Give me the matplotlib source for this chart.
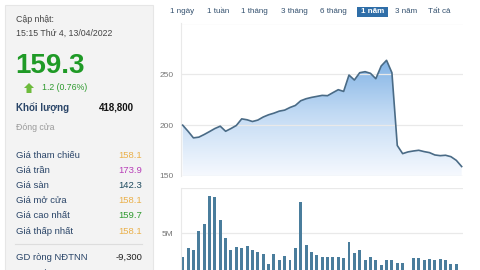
import numpy as np
import matplotlib
matplotlib.use("Agg")
import matplotlib.pyplot as plt
from matplotlib.colors import LinearSegmentedColormap
from matplotlib.patches import Rectangle, Polygon

plt.rcParams['font.family'] = ['Liberation Sans', 'DejaVu Sans']

# weekly close price, 1 year
price = [200, 194, 187.5, 188.2, 190.8, 193.7, 196.7, 199, 194, 196.7,
         199.7, 206.2, 205.3, 203.6, 205, 208, 210.2, 211.8, 213.8, 214.8,
         217.4, 219.4, 224, 226, 227.3, 228.3, 229.3, 229, 232, 234.9,
         233.2, 249.3, 244.4, 251.6, 252.6, 251, 245.7, 258.2, 263.8, 251.6,
         180, 172, 173.7, 174.6, 175.3, 174, 173, 170.7, 170, 170.4,
         169, 165.4, 159.3]
# weekly volume (shares)
volume = [2.37e6, 3.37e6, 3.15e6, 5.2e6, 6.0e6, 9.15e6, 8.96e6, 6.48e6, 4.4e6, 3.07e6,
          3.44e6, 3.3e6, 3.52e6, 3.07e6, 2.85e6, 2.63e6, 1.55e6, 2.67e6, 2.0e6, 2.4e6,
          1.96e6, 3.3e6, 8.5e6, 3.63e6, 2.85e6, 2.52e6, 2.37e6, 2.37e6, 2.37e6, 2.37e6,
          2.22e6, 3.96e6, 2.78e6, 3.07e6, 2.0e6, 2.3e6, 2.0e6, 1.44e6, 1.96e6, 2.0e6,
          1.63e6, 1.63e6, 0.6e6, 2.22e6, 2.26e6, 2.04e6, 2.1e6, 1.96e6, 2.1e6, 1.96e6,
          1.55e6, 1.55e6, 0.42e6]

periods = ["1 ngày", "1 tuần", "1 tháng", "3 tháng", "6 tháng", "1 năm", "3 năm", "Tất cả"]
active_period = "1 năm"

update_label = "Cập nhật:"
update_time = "15:15 Thứ 4, 13/04/2022"
last_price = "159.3"
change_text = "1.2 (0.76%)"
volume_label = "Khối lượng"
volume_value = "418,800"
close_label = "Đóng cửa"

row_labels = ["Giá tham chiếu", "Giá trần", "Giá sàn", "Giá mở cửa",
              "Giá cao nhất", "Giá thấp nhất", "GD ròng NĐTNN", "CRNN/GTT Mua"]
row_values = ["158.1", "173.9", "142.3", "158.1", "159.7", "158.1", "-9,300", "0.17%"]
row_colors = ["#eab04a", "#b83fb8", "#1e4a5e", "#eab04a", "#2f9a2f", "#eab04a", "#222222", "#222222"]

W, H = 480, 270
fig = plt.figure(figsize=(4.8, 2.7), dpi=100)
fig.patch.set_facecolor("white")


def fx(px):
    return px / W


def fy(py):
    return 1 - py / H


# left info panel
fig.patches.append(Rectangle((fx(5), fy(272)), fx(148), 267 / H, transform=fig.transFigure,
                             facecolor="#f3f3f3", edgecolor="#e6e6e6", lw=0.8))

label_col = "#2a4568"
fig.text(fx(16), fy(20), update_label, fontsize=6.3, color="#444444", va="center")
fig.text(fx(16), fy(33), update_time, fontsize=6.3, color="#444444", va="center")
fig.text(fx(15), fy(66), last_price, fontsize=20, color="#1f9a26", fontweight="bold", va="center")
fig.patches.append(Polygon([(fx(24), fy(88)), (fx(29), fy(83)), (fx(34), fy(88)),
                            (fx(31.5), fy(88)), (fx(31.5), fy(93)), (fx(26.5), fy(93)),
                            (fx(26.5), fy(88))], closed=True, transform=fig.transFigure,
                           facecolor="#6dbb3c", edgecolor="none"))
fig.text(fx(42), fy(88), change_text, fontsize=6.3, color="#2f9a2f", va="center")
fig.text(fx(16), fy(108), volume_label, fontsize=7, color=label_col, fontweight="bold", va="center")
fig.text(fx(134), fy(108), volume_value, fontsize=7, color="#111111", fontweight="bold",
         va="center", ha="right")
fig.text(fx(16), fy(128), close_label, fontsize=6.3, color="#9a9a9a", va="center")

row_y = [155.7, 170.7, 185.7, 200.7, 215.7, 231, 257.7, 273]
for lab, val, col, yy in zip(row_labels, row_values, row_colors, row_y):
    fig.text(fx(16), fy(yy), lab, fontsize=6.8, color=label_col, va="center")
    fig.text(fx(142), fy(yy), val, fontsize=6.8, color=col, va="center", ha="right")
fig.lines.append(plt.Line2D([fx(15), fx(142)], [fy(244), fy(244)], transform=fig.transFigure,
                            color="#dddddd", lw=0.8))

# period selector
period_x = [170, 207, 241, 281, 320, 359, 395, 428]
for p, x0 in zip(periods, period_x):
    if p == active_period:
        fig.patches.append(Rectangle((fx(356.5), fy(16.5)), fx(31.5), 10 / H,
                                     transform=fig.transFigure, facecolor="#2f6ea8",
                                     edgecolor="none"))
        fig.text(fx(372.2), fy(11.5), p, fontsize=5.8, color="white", fontweight="bold",
                 va="center", ha="center")
    else:
        fig.text(fx(x0), fy(11.5), p, fontsize=5.8, color="#33506e", va="center")

x = np.arange(len(price))
xlim = (-0.37, 52.25)
grid_col = "#e9e9e9"

# price chart
ax = fig.add_axes([fx(180.7), fy(176), fx(463 - 180.7), (176 - 23.5) / H])
ax.set_xlim(*xlim)
ax.set_ylim(150, 300)
cmap = LinearSegmentedColormap.from_list("fade", ["#f6f9fe", "#c3dbf4", "#7aaee3"])
grad = np.linspace(0, 1, 256).reshape(-1, 1)
im = ax.imshow(grad, aspect="auto", cmap=cmap, origin="lower",
               extent=[xlim[0], xlim[1], 150, 270], zorder=1)
poly = ax.fill_between(x, price, 150, facecolor="none", edgecolor="none")
im.set_clip_path(poly.get_paths()[0], transform=ax.transData)
ax.plot(x, price, color="#4a6b86", lw=1.2, zorder=3)
ax.set_yticks([150, 200, 250, 300])
ax.set_yticklabels(["150", "200", "250", ""])
ax.set_xticks([])
ax.grid(axis="y", color=grid_col, lw=0.9, zorder=0)
ax.tick_params(axis="y", length=0, labelsize=6, labelcolor="#777777", pad=5)
for s in ["top", "right", "bottom"]:
    ax.spines[s].set_visible(False)
ax.spines["left"].set_color(grid_col)
ax.set_facecolor("white")

# volume chart
axv = fig.add_axes([fx(180.7), fy(278), fx(463 - 180.7), 90 / H])
axv.set_xlim(*xlim)
axv.set_ylim(0, 10e6)
axv.bar(x, volume, width=0.55, color="#4a7d9c", zorder=2)
axv.set_yticks([5e6, 10e6])
axv.set_yticklabels(["5M", ""])
axv.set_xticks([])
axv.grid(axis="y", color=grid_col, lw=0.9, zorder=0)
axv.tick_params(axis="y", length=0, labelsize=6, labelcolor="#777777", pad=5)
for s in ["top", "right", "bottom"]:
    axv.spines[s].set_visible(False)
axv.spines["left"].set_color(grid_col)

fig.savefig("out.png", dpi=100)
